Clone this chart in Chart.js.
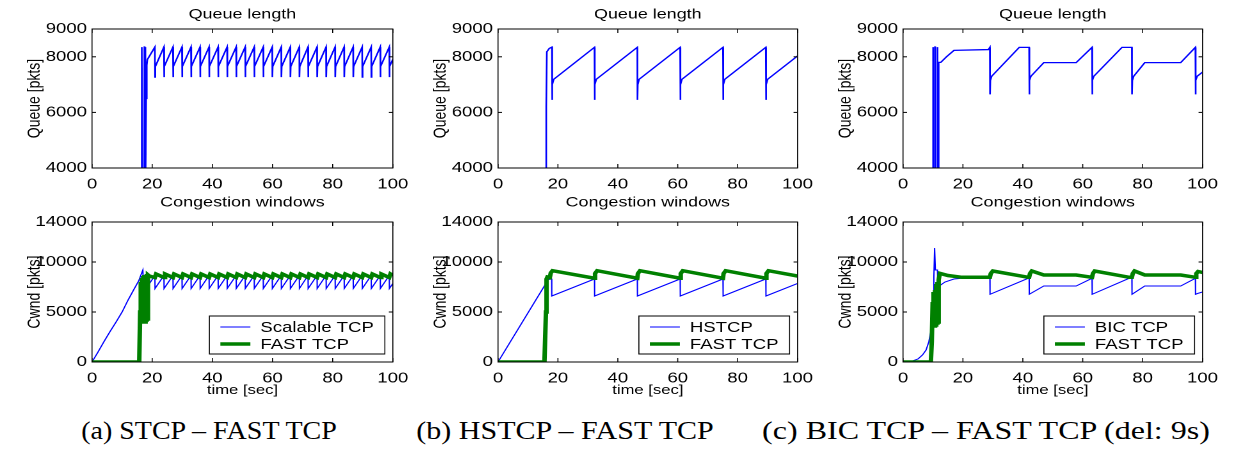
<!DOCTYPE html>
<html><head><meta charset="utf-8">
<script src="https://cdn.jsdelivr.net/npm/chart.js@4.4.1/dist/chart.umd.min.js"></script>
<style>
html,body{margin:0;padding:0;background:#fff;}
body{width:1240px;height:450px;overflow:hidden;position:relative;}
.panel{position:absolute;transform-origin:0 0;}
.panel canvas{display:block;}
.cap{position:absolute;top:416px;line-height:30px;font-family:"Liberation Serif","Times New Roman",serif;font-size:25px;color:#000;white-space:nowrap;}
</style>
</head><body>
<div class="cap" style="left:209px;transform:translateX(-50%) scaleX(1.12)">(a) STCP – FAST TCP</div>
<div class="cap" style="left:565px;transform:translateX(-50%) scaleX(1.2)">(b) HSTCP – FAST TCP</div>
<div class="cap" style="left:986px;transform:translateX(-50%) scaleX(1.28)">(c) BIC TCP – FAST TCP (del: 9s)</div>
<script>
// ---------------- data (time [sec], packets) ----------------
const xTicks = [0, 20, 40, 60, 80, 100];
const queueTicks = [4000, 6000, 8000, 9000];
const cwndTicks = [0, 5000, 10000, 14000];

const queueSTCP = [
 [16.4,3000],[16.5,8350],[16.6,8350],[16.75,3000],[17.3,3000],[17.4,8350],[17.5,8350],[17.6,3000],[17.9,3000],[18.0,6500],[18.2,7700],[18.4,7900],
 [20.9,8350],[20.95,7270],[21.05,7650],[23.9,8350],[23.95,7270],[24.05,7650],[26.9,8350],[26.95,7270],[27.05,7650],
 [29.9,8350],[29.95,7270],[30.05,7650],[32.9,8350],[32.95,7270],[33.05,7650],[35.9,8350],[35.95,7270],[36.05,7650],
 [38.9,8350],[38.95,7270],[39.05,7650],[41.9,8350],[41.95,7270],[42.05,7650],[44.9,8350],[44.95,7270],[45.05,7650],
 [47.9,8350],[47.95,7270],[48.05,7650],[50.9,8350],[50.95,7270],[51.05,7650],[53.9,8350],[53.95,7270],[54.05,7650],
 [56.9,8350],[56.95,7270],[57.05,7650],[59.9,8350],[59.95,7270],[60.05,7650],[62.9,8350],[62.95,7270],[63.05,7650],
 [65.9,8350],[65.95,7270],[66.05,7650],[68.9,8350],[68.95,7270],[69.05,7650],[71.8,8350],[71.85,7270],[71.95,7650],
 [74.8,8350],[74.85,7270],[74.95,7650],[77.8,8350],[77.85,7270],[77.95,7650],[80.8,8350],[80.85,7270],[80.95,7650],
 [83.8,8350],[83.85,7270],[83.95,7650],[86.8,8350],[86.85,7270],[86.95,7650],[89.8,8350],[89.85,7270],[89.95,7650],
 [92.8,8350],[92.85,7270],[92.95,7650],[95.8,8350],[95.85,7270],[95.95,7650],[98.8,8350],[98.85,7270],[98.95,7650],
 [100,7910]
];
const cwndSTCP = [
 [0,0],[2,1000],[4,2050],[6,3050],[8,4000],[10,5000],[12,6200],[14,7300],[15.5,8100],[16.9,9200],[17.1,7700],[17.9,8200],[18.0,7350],
 [20.9,8650],[20.95,7350],[23.9,8650],[23.95,7350],[26.9,8650],[26.95,7350],[29.9,8650],[29.95,7350],[32.9,8650],[32.95,7350],
 [35.9,8650],[35.95,7350],[38.9,8650],[38.95,7350],[41.9,8650],[41.95,7350],[44.9,8650],[44.95,7350],[47.9,8650],[47.95,7350],
 [50.9,8650],[50.95,7350],[53.9,8650],[53.95,7350],[56.9,8650],[56.95,7350],[59.9,8650],[59.95,7350],[62.9,8650],[62.95,7350],
 [65.9,8650],[65.95,7350],[68.9,8650],[68.95,7350],[71.8,8650],[71.85,7350],[74.8,8650],[74.85,7350],[77.8,8650],[77.85,7350],
 [80.8,8650],[80.85,7350],[83.8,8650],[83.85,7350],[86.8,8650],[86.85,7350],[89.8,8650],[89.85,7350],[92.8,8650],[92.85,7350],
 [95.8,8650],[95.85,7350],[98.8,8650],[98.85,7350],[100,7850]
];
const cwndFastA = [
 [0,0],[15.7,0],[16.0,5000],[16.2,8000],[16.4,4000],[16.6,8400],[16.8,4000],[17.0,8600],[17.2,4100],[17.4,8700],[17.6,4000],
 [17.8,8700],[18.0,4200],[18.2,8800],[18.4,4300],[18.6,8700],[19.0,8600],
 [20.9,8450],[21.3,8800],[23.9,8450],[24.3,8800],[26.9,8450],[27.3,8800],[29.9,8450],[30.3,8800],[32.9,8450],[33.3,8800],
 [35.9,8450],[36.3,8800],[38.9,8450],[39.3,8800],[41.9,8450],[42.3,8800],[44.9,8450],[45.3,8800],[47.9,8450],[48.3,8800],
 [50.9,8450],[51.3,8800],[53.9,8450],[54.3,8800],[56.9,8450],[57.3,8800],[59.9,8450],[60.3,8800],[62.9,8450],[63.3,8800],
 [65.9,8450],[66.3,8800],[68.9,8450],[69.3,8800],[71.8,8450],[72.2,8800],[74.8,8450],[75.2,8800],[77.8,8450],[78.2,8800],
 [80.8,8450],[81.2,8800],[83.8,8450],[84.2,8800],[86.8,8450],[87.2,8800],[89.8,8450],[90.2,8800],[92.8,8450],[93.2,8800],
 [95.8,8450],[96.2,8800],[98.8,8450],[99.2,8800],[100,8650]
];

const queueHSTCP = [
 [16.0,3000],[16.1,6200],[16.3,8180],[17.1,8300],[18.0,8350],[18.05,6450],[18.15,7000],[18.6,7190],
 [32.2,8340],[32.25,6450],[32.35,7000],[32.8,7190],[46.5,8340],[46.55,6450],[46.65,7000],[47.1,7190],
 [60.8,8340],[60.85,6450],[60.95,7000],[61.4,7190],[75.1,8340],[75.15,6450],[75.25,7000],[75.7,7190],
 [89.4,8340],[89.45,6450],[89.55,7000],[90.0,7190],[100,8030]
];
const cwndHSTCP = [
 [0,0],[16.8,8250],[17.9,8300],[17.95,6600],[32.2,8300],[32.25,6600],[46.5,8300],[46.55,6600],
 [60.8,8300],[60.85,6600],[75.1,8300],[75.15,6600],[89.4,8300],[89.45,6600],[100,7850]
];
const cwndFastB = [
 [0,0],[15.5,0],[16.0,5000],[16.2,8300],[16.5,8500],[17.3,8450],[17.6,8900],[18.2,9130],
 [32.2,8380],[32.4,8850],[33.1,9130],[46.5,8380],[46.7,8850],[47.4,9130],[60.8,8380],[61.0,8850],[61.7,9130],
 [75.1,8380],[75.3,8850],[76.0,9130],[89.4,8380],[89.6,8850],[90.3,9130],[100,8600]
];

const queueBIC = [
 [9.9,3000],[10.0,8350],[10.05,8350],[10.1,3000],[10.6,3000],[10.65,8350],[10.75,8350],[10.8,3000],[11.45,3000],[11.5,8350],
 [11.55,8350],[11.6,3000],[11.8,5400],[11.9,6400],[12.0,7800],[12.6,7800],[14.5,8000],[17.0,8230],[28.5,8260],[29.0,8340],
 [29.05,6650],[29.15,7150],[29.6,7300],[38.8,8340],[42.1,8340],[42.15,6650],[42.25,7150],[42.7,7300],[47.0,7790],[57.8,7790],
 [63.1,8340],[63.15,6650],[63.25,7150],[63.7,7300],[73.1,8340],[76.4,8340],[76.45,6650],[76.55,7150],[77.0,7300],[80.7,7790],
 [92.7,7790],[97.6,8340],[97.65,6650],[97.75,7150],[98.2,7300],[100,7450]
];
const cwndBIC = [
 [0,0],[3,80],[5,300],[6.5,700],[7.7,1200],[8.6,2000],[9.4,3200],[9.9,5500],[10.3,8500],[10.55,11400],[10.8,9200],[11.5,9200],
 [11.6,7500],[14,8000],[17,8300],[19.7,8370],[29.0,8370],[29.05,6770],[41.8,8370],[42.1,8370],[42.15,6770],[47.0,7600],
 [57.8,7600],[63.1,8370],[63.15,6770],[75.5,8370],[76.4,8370],[76.45,6770],[80.7,7600],[92.7,7600],[97.6,8370],[97.65,6770],
 [98.3,6850],[100,7000]
];
const cwndFastC = [
 [0,0],[9.3,0],[9.6,2000],[9.9,6000],[10.1,3500],[10.3,7000],[10.5,3600],[10.7,7200],[10.9,3700],[11.1,7800],[11.3,3900],
 [11.5,8000],[11.7,4000],[11.9,8200],[12.3,8870],[15,8650],[19.7,8470],[29.0,8470],[29.3,8850],[30.0,9100],[41.8,8470],
 [42.1,8470],[42.4,8850],[43.0,9100],[47.0,8700],[57.8,8700],[63.1,8470],[63.4,8850],[64.0,9100],[75.5,8470],[76.4,8470],
 [76.7,8850],[77.3,9100],[80.7,8700],[92.7,8700],[97.6,8470],[97.9,8850],[98.5,9050],[100,8950]
];

const legendA = ['Scalable TCP', 'FAST TCP'];
const legendB = ['HSTCP', 'FAST TCP'];
const legendC = ['BIC TCP', 'FAST TCP'];

// ---------------- layout / style ----------------
const S = 1.28;                     // horizontal stretch of the figure
const FONT = '"Liberation Sans", Arial, Helvetica, sans-serif';
const BLUE = '#0000ff', GREEN = '#008000';
const plotL = [92, 498, 903], plotR = [399, 804, 1209];
const rows = [{top:0, h:190, areaTop:29, areaBot:168}, {top:190, h:210, areaTop:32, areaBot:172}];
Chart.defaults.color = '#000';

const framePlugin = {
  id: 'frame',
  afterDraw(chart) {
    const {ctx, chartArea: a, scales: {x, y}} = chart;
    const o = chart.options.plugins.boxLegend;
    ctx.save();
    ctx.strokeStyle = '#000';
    const seg = (x1, y1, x2, y2, w) => { ctx.lineWidth = w; ctx.beginPath(); ctx.moveTo(x1, y1); ctx.lineTo(x2, y2); ctx.stroke(); };
    seg(a.left, a.top, a.right, a.top, 1);
    seg(a.left, a.bottom, a.right, a.bottom, 1);
    seg(a.left, a.top - 0.5, a.left, a.bottom + 0.5, 1 / S);
    seg(a.right, a.top - 0.5, a.right, a.bottom + 0.5, 1 / S);
    x.ticks.forEach(t => {
      const px = x.getPixelForValue(t.value);
      seg(px, a.bottom, px, a.bottom - 4, 1 / S);
      seg(px, a.top, px, a.top + 4, 1 / S);
    });
    y.ticks.forEach(t => {
      const py = y.getPixelForValue(t.value);
      seg(a.left, py, a.left + 4 / S, py, 1);
      seg(a.right, py, a.right - 4 / S, py, 1);
    });
    // y axis title
    ctx.save();
    ctx.translate(o.yTitleX, (a.top + a.bottom) / 2);
    ctx.rotate(-Math.PI / 2);
    ctx.font = '14px ' + FONT;
    ctx.fillStyle = '#000';
    ctx.textAlign = 'center';
    ctx.textBaseline = 'middle';
    ctx.fillText(o.yTitle, 0, 0);
    ctx.restore();
    if (o.show) {
      const ds = chart.data.datasets;
      ctx.font = '14.5px ' + FONT;
      const tw = Math.max(...ds.map(d => ctx.measureText(d.label).width));
      const pl = 11 / S, ll = 30 / S, gap = 10 / S, pr = 11 / S;
      const bw = pl + ll + gap + tw + pr, bh = 38;
      const bx = a.right - 8 / S - bw, by = a.bottom - 8 - bh;
      ctx.fillStyle = '#fff';
      ctx.fillRect(bx, by, bw, bh);
      seg(bx, by, bx + bw, by, 1); seg(bx, by + bh, bx + bw, by + bh, 1);
      seg(bx, by - 0.5, bx, by + bh + 0.5, 1 / S); seg(bx + bw, by - 0.5, bx + bw, by + bh + 0.5, 1 / S);
      ds.forEach((d, i) => {
        const ry = by + 11 + i * 17;
        ctx.strokeStyle = d.borderColor;
        seg(bx + pl, ry, bx + pl + ll, ry, d.borderWidth);
        ctx.fillStyle = '#000';
        ctx.textBaseline = 'middle';
        ctx.textAlign = 'left';
        ctx.fillText(d.label, bx + pl + ll + gap, ry + 1);
      });
    }
    ctx.restore();
  }
};

function makePanel(col, rowIdx, cfg) {
  const r = rows[rowIdx];
  const x0 = plotL[col] - 92;
  const yW = 92 / S, padR = 16;
  const W = yW + (plotR[col] - plotL[col]) / S + padR;
  const div = document.createElement('div');
  div.className = 'panel';
  div.style.left = x0 + 'px'; div.style.top = r.top + 'px';
  div.style.width = W + 'px'; div.style.height = r.h + 'px';
  div.style.transform = 'scaleX(' + S + ')';
  const cv = document.createElement('canvas');
  cv.width = W; cv.height = r.h;
  div.appendChild(cv); document.body.appendChild(div);
  const tickFont = {family: FONT, size: 14.5};
  const titleTopPad = rowIdx === 0 ? 6 : 4;
  const titleBotPad = r.areaTop - titleTopPad - 14 * 1.2;
  new Chart(cv, {
    type: 'line',
    data: {datasets: cfg.series.map(s => ({
      label: s.label, data: s.data, borderColor: s.color, borderWidth: s.width, order: s.order,
      pointRadius: 0, tension: 0, fill: false
    }))},
    options: {
      animation: false, responsive: false, devicePixelRatio: 2,
      layout: {padding: {left: 0, right: padR, top: 0, bottom: 0}},
      plugins: {
        legend: {display: false}, tooltip: {enabled: false},
        title: {display: true, text: cfg.title, fullSize: false, color: '#000',
                font: {family: FONT, size: 14, weight: 'normal'}, padding: {top: titleTopPad, bottom: titleBotPad}},
        boxLegend: {show: !!cfg.legend, yTitle: cfg.yTitle, yTitleX: 35 / S}
      },
      scales: {
        x: {
          type: 'linear', min: 0, max: 100,
          afterBuildTicks: s => { s.ticks = xTicks.map(v => ({value: v})); },
          afterFit: s => { s.height = r.h - r.areaBot; },
          grid: {display: false, drawTicks: false}, border: {display: false},
          ticks: {font: tickFont, color: '#000', padding: 8, maxRotation: 0, autoSkip: false, callback: v => String(v)},
          title: {display: !!cfg.xTitle, text: cfg.xTitle || '', color: '#000', font: {family: FONT, size: 13}, padding: {top: 0, bottom: 2}}
        },
        y: {
          type: 'linear', min: cfg.yTicks[0], max: cfg.yTicks[cfg.yTicks.length - 1],
          afterBuildTicks: s => { s.ticks = cfg.yTicks.map(v => ({value: v})); },
          afterFit: s => { s.width = yW; },
          grid: {display: false, drawTicks: false}, border: {display: false},
          ticks: {font: tickFont, color: '#000', padding: 5 / S, autoSkip: false, callback: v => String(v)},
          title: {display: false}
        }
      }
    },
    plugins: [framePlugin]
  });
}

const qTitle = 'Queue length', cTitle = 'Congestion windows';
makePanel(0, 0, {title: qTitle, yTitle: 'Queue [pkts]', yTicks: queueTicks, series: [{label: 'Queue', data: queueSTCP, color: BLUE, width: 1.3, order: 0}]});
makePanel(1, 0, {title: qTitle, yTitle: 'Queue [pkts]', yTicks: queueTicks, series: [{label: 'Queue', data: queueHSTCP, color: BLUE, width: 1.3, order: 0}]});
makePanel(2, 0, {title: qTitle, yTitle: 'Queue [pkts]', yTicks: queueTicks, series: [{label: 'Queue', data: queueBIC, color: BLUE, width: 1.3, order: 0}]});
makePanel(0, 1, {title: cTitle, yTitle: 'Cwnd [pkts]', xTitle: 'time [sec]', yTicks: cwndTicks, legend: true, series: [
  {label: legendA[0], data: cwndSTCP, color: BLUE, width: 1, order: 1}, {label: legendA[1], data: cwndFastA, color: GREEN, width: 3.5, order: 0}]});
makePanel(1, 1, {title: cTitle, yTitle: 'Cwnd [pkts]', xTitle: 'time [sec]', yTicks: cwndTicks, legend: true, series: [
  {label: legendB[0], data: cwndHSTCP, color: BLUE, width: 1, order: 1}, {label: legendB[1], data: cwndFastB, color: GREEN, width: 3.5, order: 0}]});
makePanel(2, 1, {title: cTitle, yTitle: 'Cwnd [pkts]', xTitle: 'time [sec]', yTicks: cwndTicks, legend: true, series: [
  {label: legendC[0], data: cwndBIC, color: BLUE, width: 1, order: 1}, {label: legendC[1], data: cwndFastC, color: GREEN, width: 3.5, order: 0}]});
</script>
</body></html>
